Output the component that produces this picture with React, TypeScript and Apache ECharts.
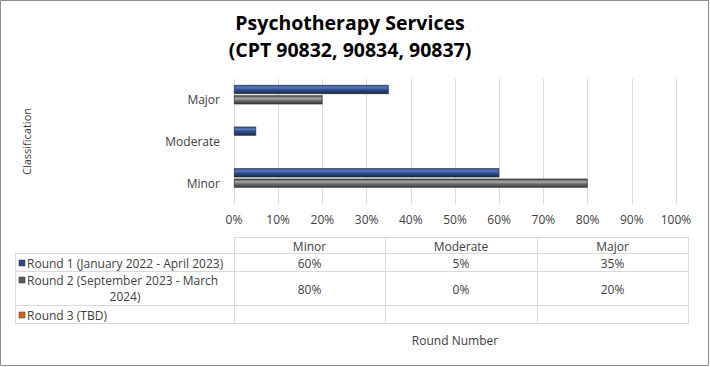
import React, { useEffect, useRef } from "react";
import * as echarts from "echarts";

const categories = ["Minor", "Moderate", "Major"];
const seriesNames = [
  "Round 1 (January 2022 - April 2023)",
  "Round 2 (September 2023 - March 2024)",
  "Round 3 (TBD)",
];
const round1 = [60, 5, 35];
const round2 = [80, 0, 20];
const round3: (number | null)[] = [null, null, null];
const xTicks = [0, 10, 20, 30, 40, 50, 60, 70, 80, 90, 100];

const FONT = "Open Sans";
const FS = 12;

const blueGrad = new echarts.graphic.LinearGradient(0, 0, 0, 1, [
  { offset: 0, color: "#3d5c9c" },
  { offset: 0.3, color: "#5676b8" },
  { offset: 0.55, color: "#2b4a8a" },
  { offset: 1, color: "#182c5c" },
]);
const grayGrad = new echarts.graphic.LinearGradient(0, 0, 0, 1, [
  { offset: 0, color: "#4a4a4a" },
  { offset: 0.35, color: "#a8a8a8" },
  { offset: 0.6, color: "#6a6a6a" },
  { offset: 1, color: "#3a3a3a" },
]);
const orangeGrad = new echarts.graphic.LinearGradient(0, 0, 0, 1, [
  { offset: 0, color: "#f08a3a" },
  { offset: 1, color: "#b04a0a" },
]);
const keyColors = ["#2b4a8a", "#5a5a5a", "#d8641a"];

export default function App() {
  const ref = useRef<HTMLDivElement>(null);
  useEffect(() => {
    if (!ref.current) return;
    const chart = echarts.init(ref.current, undefined, { renderer: "svg" });

    const colX = [234, 385, 537, 688];
    const rowY = [237, 253, 271, 305, 323];
    const lineColor = "#d9d9d9";
    const g: any[] = [];
    const hl = (x1: number, x2: number, y: number) =>
      g.push({ type: "line", shape: { x1, y1: y + 0.5, x2, y2: y + 0.5 }, style: { stroke: lineColor, lineWidth: 1 }, silent: true });
    const vl = (x: number, y1: number, y2: number) =>
      g.push({ type: "line", shape: { x1: x + 0.5, y1, x2: x + 0.5, y2 }, style: { stroke: lineColor, lineWidth: 1 }, silent: true });
    hl(colX[0], colX[3], rowY[0]);
    for (let i = 1; i < rowY.length; i++) hl(15, colX[3], rowY[i]);
    colX.forEach((x) => vl(x, rowY[0], rowY[4] + 1));
    vl(15, rowY[1], rowY[4] + 1);

    const txt = (text: string, x: number, y: number, align = "center") =>
      g.push({
        type: "text",
        x,
        y,
        style: { text, fill: "#404040", font: `${FS}px ${FONT}`, align, verticalAlign: "middle" },
        silent: true,
      });
    categories.forEach((c, i) => txt(c, (colX[i] + colX[i + 1]) / 2, (rowY[0] + rowY[1]) / 2 + 1));
    const rows = [round1, round2, round3];
    rows.forEach((vals, r) => {
      const yc = (rowY[r + 1] + rowY[r + 2]) / 2 + 1;
      vals.forEach((v, i) => {
        if (v !== null && v !== undefined) txt(`${v}%`, (colX[i] + colX[i + 1]) / 2, yc);
      });
      g.push({
        type: "rect",
        shape: { x: 19, y: (r === 1 ? rowY[r + 1] + 9 : yc) - 3, width: 6, height: 6 },
        style: { fill: keyColors[r], stroke: "#333", lineWidth: 0.5 },
        silent: true,
      });
    });
    txt(seriesNames[0], 27, (rowY[1] + rowY[2]) / 2 + 1, "left");
    txt("Round 2 (September 2023 - March", 27, rowY[2] + 9, "left");
    txt("2024)", 125, rowY[2] + 25);
    txt(seriesNames[2], 27, (rowY[3] + rowY[4]) / 2 + 1, "left");

    g.push({
      type: "rect",
      shape: { x: 0.5, y: 0.5, width: 708, height: 365 },
      style: { fill: "none", stroke: "#8c8c8c", lineWidth: 1 },
      silent: true,
    });

    const barStyle = (grad: any) => ({ color: grad, borderColor: "#1a1a1a", borderWidth: 0.6 });

    chart.setOption({
      animation: false,
      backgroundColor: "#ffffff",
      title: {
        text: "Psychotherapy Services\n(CPT 90832, 90834, 90837)",
        left: 345,
        textAlign: "center",
        top: 4,
        textStyle: { fontFamily: FONT, fontWeight: "bold", fontSize: 19.5, color: "#000", lineHeight: 27 },
      },
      grid: { left: 234, right: 34, top: 79, bottom: 163 },
      xAxis: {
        type: "value",
        min: 0,
        max: 100,
        interval: 10,
        name: "Round Number",
        nameLocation: "middle",
        nameGap: 130,
        nameTextStyle: { fontFamily: FONT, fontSize: FS, color: "#404040" },
        axisLabel: {
          formatter: (v: number) => (xTicks.includes(v) ? `${v}%` : ""),
          fontFamily: FONT,
          fontSize: FS,
          color: "#404040",
          margin: 9,
        },
        axisLine: { show: false },
        axisTick: { show: false },
        splitLine: { show: true, lineStyle: { color: "#d9d9d9", width: 1 } },
      },
      yAxis: {
        type: "category",
        data: categories,
        inverse: false,
        name: "Classification",
        nameLocation: "middle",
        nameRotate: 90,
        nameGap: 202,
        nameTextStyle: { fontFamily: FONT, fontSize: 11, color: "#404040" },
        axisLabel: { fontFamily: FONT, fontSize: FS, color: "#404040", margin: 14 },
        axisLine: { show: false },
        axisTick: { show: false },
      },
      series: [
        {
          name: seriesNames[0],
          type: "bar",
          data: round1,
          barWidth: 9,
          barGap: "15%",
          itemStyle: barStyle(blueGrad),
        },
        {
          name: seriesNames[1],
          type: "bar",
          data: round2.map((v) => (v === 0 ? { value: v, itemStyle: { borderWidth: 0 } } : v)),
          barWidth: 9,
          barGap: "15%",
          itemStyle: barStyle(grayGrad),
        },
        {
          name: seriesNames[2],
          type: "bar",
          data: round3,
          barWidth: 9,
          barGap: "15%",
          itemStyle: barStyle(orangeGrad),
        },
      ],
      graphic: g,
    });
    return () => chart.dispose();
  }, []);
  return (
    <div
      ref={ref}
      style={{ position: "fixed", left: 0, top: 0, width: 710, height: 367 }}
    />
  );
}
